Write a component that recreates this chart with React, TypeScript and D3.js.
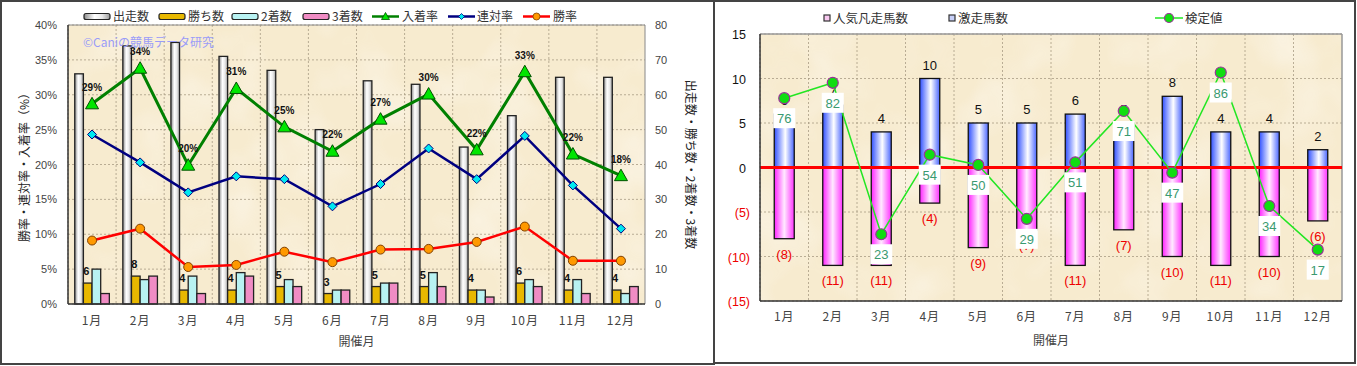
import React from 'react';
import * as d3 from 'd3';

const months = ['1月', '2月', '3月', '4月', '5月', '6月', '7月', '8月', '9月', '10月', '11月', '12月'];
const runs = [66, 74, 75, 71, 67, 50, 64, 63, 45, 54, 65, 65];
const wins = [6, 8, 4, 4, 5, 3, 5, 5, 4, 6, 4, 4];
const seconds = [10, 7, 8, 9, 7, 4, 6, 9, 4, 7, 7, 3];
const thirds = [3, 8, 3, 8, 5, 4, 6, 5, 2, 5, 3, 5];
const placeRate = [28.7, 33.8, 19.9, 30.9, 25.4, 21.9, 26.5, 30.1, 22.1, 33.3, 21.5, 18.4];
const rentaiRate = [24.3, 20.3, 16.0, 18.3, 17.9, 14.0, 17.2, 22.3, 17.9, 24.1, 17.0, 10.8];
const winRate = [9.1, 10.8, 5.3, 5.6, 7.5, 6.0, 7.8, 7.9, 8.9, 11.1, 6.2, 6.2];
const leftTicks = [0, 5, 10, 15, 20, 25, 30, 35, 40];
const rightTicks = [0, 10, 20, 30, 40, 50, 60, 70, 80];

const gekisou = [6, 7, 4, 10, 5, 5, 6, 5, 8, 4, 4, 2];
const bonsou = [8, 11, 11, 4, 9, 7, 11, 7, 10, 11, 10, 6];
const kentei = [76, 82, 23, 54, 50, 29, 51, 71, 47, 86, 34, 17];
const r2Ticks = [-15, -10, -5, 0, 5, 10, 15];

const FONT = '"Noto Sans CJK JP", "Noto Sans", sans-serif';
const AX = '#444';

function Left() {
  const L = 68, R = 645, T = 25, B = 304;
  const x = d3.scaleBand<string>().domain(months).range([L, R]).padding(0);
  const y = d3.scaleLinear().domain([0, 40]).range([B, T]);
  const y2 = d3.scaleLinear().domain([0, 80]).range([B, T]);
  const series = ['runs', 'wins', 'seconds', 'thirds'];
  const inner = d3.scaleBand<string>().domain(series).range([-17.3, 17.3]).padding(0);
  const cx = (m: string) => (x(m) as number) + x.bandwidth() / 2;
  const fills: Record<string, string> = { runs: 'url(#gWhite)', wins: '#e8b800', seconds: '#b8f2f2', thirds: '#f08cc4' };
  const vals: Record<string, number[]> = { runs, wins, seconds, thirds };
  const line = (arr: number[]) => d3.line<number>().x((_, i) => cx(months[i])).y(v => y(v))(arr) as string;

  const legendBars = [
    { k: 'runs', label: '出走数', x: 84 },
    { k: 'wins', label: '勝ち数', x: 159 },
    { k: 'seconds', label: '2着数', x: 232 },
    { k: 'thirds', label: '3着数', x: 303 },
  ];
  return (
    <g>
      <rect x={1} y={1} width={713} height={363} fill="#fff" stroke="#444" strokeWidth={2} />
      <rect x={L} y={T} width={R - L} height={B - T} fill="#f7ebcf" />
      <rect x={L} y={T} width={R - L} height={B - T} fill="#fff" filter="url(#paper)" opacity={0.55} />
      {leftTicks.map(t => (
        <line key={'h' + t} x1={L} x2={R} y1={y(t)} y2={y(t)} stroke="#a89c84" strokeDasharray="2,2" strokeWidth={0.8} />
      ))}
      {months.map(m => (
        <line key={'v' + m} x1={x(m)} x2={x(m)} y1={T} y2={B} stroke="#a89c84" strokeDasharray="2,2" strokeWidth={0.8} />
      ))}
      <line x1={L} x2={R} y1={T} y2={T} stroke="#888" />
      <line x1={R} x2={R} y1={T} y2={B} stroke="#888" />
      {months.map((m, i) =>
        series.map(s => {
          const v = vals[s][i];
          const bx = cx(m) + (inner(s) as number);
          return (
            <rect key={m + s} x={bx} y={y2(v)} width={inner.bandwidth()} height={B - y2(v)}
              fill={fills[s]} stroke="#222" strokeWidth={1.3} />
          );
        })
      )}
      {months.map((m, i) => (
        <text key={'wl' + m} x={cx(m) + (inner('wins') as number) + inner.bandwidth() / 2 - 1.5} y={y2(wins[i]) - 8}
          fontSize={11} fontWeight="bold" textAnchor="middle" fill="#111" fontFamily="Arial, sans-serif">{wins[i]}</text>
      ))}
      <line x1={L} x2={L} y1={T} y2={B} stroke="#333" strokeWidth={1.5} />
      <line x1={L} x2={R} y1={B} y2={B} stroke="#333" strokeWidth={1.5} />

      <path d={line(placeRate)} fill="none" stroke="#008000" strokeWidth={3} />
      <path d={line(rentaiRate)} fill="none" stroke="#000080" strokeWidth={2.5} />
      <path d={line(winRate)} fill="none" stroke="#ff0000" strokeWidth={2.5} />
      {placeRate.map((v, i) => {
        const px = cx(months[i]), py = y(v);
        return (
          <g key={'pr' + i}>
            <path d={`M${px},${py - 6.5}L${px + 6.5},${py + 5}L${px - 6.5},${py + 5}Z`} fill="#00e600" stroke="#005000" strokeWidth={1} />
            <text x={px} y={py - 13} fontSize={10} fontWeight="bold" textAnchor="middle" fill="#111" fontFamily="Arial, sans-serif">{Math.round(v) + '%'}</text>
          </g>
        );
      })}
      {rentaiRate.map((v, i) => {
        const px = cx(months[i]), py = y(v);
        return <path key={'rr' + i} d={`M${px},${py - 4.5}L${px + 4.5},${py}L${px},${py + 4.5}L${px - 4.5},${py}Z`} fill="#00e8f0" stroke="#000080" strokeWidth={1} />;
      })}
      {winRate.map((v, i) => (
        <circle key={'wr' + i} cx={cx(months[i])} cy={y(v)} r={4.5} fill="#ff9900" stroke="#804000" strokeWidth={1} />
      ))}

      <text x={83} y={47} fontSize={12} fill="#9a9cf8" fontFamily={FONT}>©Caniの競馬データ研究</text>

      {leftTicks.map(t => (
        <text key={'lt' + t} x={57} y={y(t) + 4} fontSize={11} textAnchor="end" fill={AX} fontFamily="Arial, sans-serif">{t + '%'}</text>
      ))}
      {rightTicks.map(t => (
        <text key={'rt' + t} x={655} y={y2(t) + 4} fontSize={11} textAnchor="start" fill={AX} fontFamily="Arial, sans-serif">{t}</text>
      ))}
      {months.map(m => (
        <text key={'xl' + m} x={cx(m)} y={325} fontSize={12} textAnchor="middle" fill={AX} fontFamily={FONT} letterSpacing={1}>{m}</text>
      ))}
      <text x={(L + R) / 2} y={346} fontSize={12} textAnchor="middle" fill={AX} fontFamily={FONT}>開催月</text>
      <text transform={`translate(29,${(T + B) / 2}) rotate(-90)`} fontSize={12} textAnchor="middle" fill="#222" fontFamily={FONT}>勝率・連対率・入着率（%）</text>
      <text transform={`translate(686,${(T + B) / 2}) rotate(90)`} fontSize={12} textAnchor="middle" fill="#222" fontFamily={FONT}>出走数・勝ち数・2着数・3着数</text>

      {legendBars.map(lb => (
        <g key={'lg' + lb.k}>
          <rect x={lb.x} y={13.5} width={26} height={6} rx={2} fill={fills[lb.k]} stroke="#222" strokeWidth={1.2} />
          <text x={lb.x + 29} y={21} fontSize={12} fill="#333" fontFamily={FONT}>{lb.label}</text>
        </g>
      ))}
      <g>
        <line x1={372} x2={399} y1={16.5} y2={16.5} stroke="#008000" strokeWidth={2.5} />
        <path d="M385.5,12.5L389.5,19.5L381.5,19.5Z" fill="#00e600" stroke="#005000" strokeWidth={0.8} />
        <text x={402} y={21} fontSize={12} fill="#333" fontFamily={FONT}>入着率</text>
        <line x1={448} x2={475} y1={16.5} y2={16.5} stroke="#000080" strokeWidth={2.5} />
        <path d="M461.5,13.5L464.5,16.5L461.5,19.5L458.5,16.5Z" fill="#00e8f0" stroke="#000080" strokeWidth={0.8} />
        <text x={477} y={21} fontSize={12} fill="#333" fontFamily={FONT}>連対率</text>
        <line x1={523} x2={550} y1={16.5} y2={16.5} stroke="#ff0000" strokeWidth={2.5} />
        <circle cx={536.5} cy={16.5} r={3.5} fill="#ff9900" stroke="#804000" strokeWidth={0.8} />
        <text x={553} y={21} fontSize={12} fill="#333" fontFamily={FONT}>勝率</text>
      </g>
    </g>
  );
}

function Right() {
  const L = 760, R = 1342, T = 34, B = 301;
  const x = d3.scaleBand<string>().domain(months).range([L, R]).padding(0);
  const y = d3.scaleLinear().domain([-15, 15]).range([B, T]);
  const yk = d3.scaleLinear().domain([-3, 101]).range([B, T]);
  const cx = (m: string) => (x(m) as number) + x.bandwidth() / 2;
  const bw = 20;
  const kline = d3.line<number>().x((_, i) => cx(months[i])).y(v => yk(v))(kentei) as string;
  const fmt = (t: number) => (t < 0 ? `(${-t})` : `${t}`);
  return (
    <g>
      <rect x={714} y={1} width={641} height={362} fill="#fff" stroke="#444" strokeWidth={2} />
      <rect x={L} y={T} width={R - L} height={B - T} fill="#f7ebcf" />
      <rect x={L} y={T} width={R - L} height={B - T} fill="#fff" filter="url(#paper)" opacity={0.55} />
      {r2Ticks.map(t => (
        <line key={'h' + t} x1={L} x2={R} y1={y(t)} y2={y(t)} stroke="#a89c84" strokeDasharray="2,2" strokeWidth={0.8} />
      ))}
      {months.map(m => (
        <line key={'v' + m} x1={x(m)} x2={x(m)} y1={T} y2={B} stroke="#a89c84" strokeDasharray="2,2" strokeWidth={0.8} />
      ))}
      <line x1={L} x2={R} y1={T} y2={T} stroke="#999" strokeWidth={1.5} />
      <line x1={R} x2={R} y1={T} y2={B} stroke="#999" strokeWidth={1.5} />
      {months.map((m, i) => (
        <g key={'b' + m}>
          <rect x={cx(m) - bw / 2} y={y(gekisou[i])} width={bw} height={y(0) - y(gekisou[i])} fill="url(#gBlue)" stroke="#111" strokeWidth={1.3} />
          <rect x={cx(m) - bw / 2} y={y(0)} width={bw} height={y(-bonsou[i]) - y(0)} fill="url(#gPink)" stroke="#111" strokeWidth={1.3} />
          <text x={cx(m)} y={y(gekisou[i]) - 9} fontSize={13} textAnchor="middle" fill="#111" fontFamily="Arial, sans-serif">{gekisou[i]}</text>
          <text x={cx(m)} y={y(-bonsou[i]) + 20} fontSize={13} textAnchor="middle" fill="#ee0000" fontFamily="Arial, sans-serif">{`(${bonsou[i]})`}</text>
        </g>
      ))}
      <line x1={L} x2={R} y1={y(0)} y2={y(0)} stroke="#ff0000" strokeWidth={3} />
      <line x1={L} x2={L} y1={T} y2={B} stroke="#333" strokeWidth={1.5} />
      <line x1={L} x2={R} y1={B} y2={B} stroke="#333" strokeWidth={1.5} />
      <path d={kline} fill="none" stroke="#22e622" strokeWidth={1.5} />
      {kentei.map((v, i) => (
        <circle key={'kd' + i} cx={cx(months[i])} cy={yk(v)} r={5.5} fill="#11dd11" stroke="#993399" strokeWidth={1.2} />
      ))}
      {kentei.map((v, i) => (
        <g key={'kl' + i}>
          <rect x={cx(months[i]) - 11} y={yk(v) + 10} width={22} height={20} fill="#fff" />
          <text x={cx(months[i])} y={yk(v) + 25} fontSize={13} textAnchor="middle" fill="#3a9a70" fontFamily="Arial, sans-serif">{v}</text>
        </g>
      ))}
      {r2Ticks.map(t => (
        <text key={'yt' + t} x={t < 0 ? 750 : 746} y={y(t) + 5} fontSize={12.5} textAnchor="end" fill={t < 0 ? '#ee0000' : '#111'} fontFamily="Arial, sans-serif">{fmt(t)}</text>
      ))}
      {months.map(m => (
        <text key={'xl' + m} x={cx(m)} y={321} fontSize={12} textAnchor="middle" fill={AX} fontFamily={FONT} letterSpacing={1}>{m}</text>
      ))}
      <text x={(L + R) / 2} y={345} fontSize={12} textAnchor="middle" fill={AX} fontFamily={FONT}>開催月</text>

      <rect x={824} y={15} width={6} height={6} fill="#f8c8f0" stroke="#333" strokeWidth={1.2} />
      <text x={833} y={22.5} fontSize={12.5} fill="#333" fontFamily={FONT}>人気凡走馬数</text>
      <rect x={949} y={15} width={6} height={6} fill="#c8d0f8" stroke="#333" strokeWidth={1.2} />
      <text x={958} y={22.5} fontSize={12.5} fill="#333" fontFamily={FONT}>激走馬数</text>
      <line x1={1155} x2={1183} y1={18} y2={18} stroke="#22e622" strokeWidth={1.5} />
      <circle cx={1169} cy={18} r={4.5} fill="#11dd11" stroke="#993399" strokeWidth={1.2} />
      <text x={1185} y={22.5} fontSize={12.5} fill="#333" fontFamily={FONT}>検定値</text>
    </g>
  );
}

export default function App() {
  return (
    <svg width={1357} height={366} style={{ position: 'absolute', left: 0, top: 0 }} xmlns="http://www.w3.org/2000/svg">
      <defs>
        <linearGradient id="gWhite" x1="0" x2="1" y1="0" y2="0">
          <stop offset="0" stopColor="#8c8c8c" />
          <stop offset="0.4" stopColor="#ffffff" />
          <stop offset="0.7" stopColor="#e8e8e8" />
          <stop offset="1" stopColor="#9a9a9a" />
        </linearGradient>
        <linearGradient id="gBlue" x1="0" x2="1" y1="0" y2="0">
          <stop offset="0" stopColor="#3050ff" />
          <stop offset="0.55" stopColor="#ffffff" />
          <stop offset="1" stopColor="#4a66ff" />
        </linearGradient>
        <linearGradient id="gPink" x1="0" x2="1" y1="0" y2="0">
          <stop offset="0" stopColor="#ff22ff" />
          <stop offset="0.5" stopColor="#ffeaff" />
          <stop offset="1" stopColor="#ff33ff" />
        </linearGradient>
        <filter id="paper" x="0" y="0" width="100%" height="100%">
          <feTurbulence type="fractalNoise" baseFrequency="0.015" numOctaves={3} seed={4} />
          <feColorMatrix type="matrix" values="0 0 0 0 1  0 0 0 0 1  0 0 0 0 1  0 0 0 1.6 -0.75" />
        </filter>
      </defs>
      <Left />
      <Right />
    </svg>
  );
}
